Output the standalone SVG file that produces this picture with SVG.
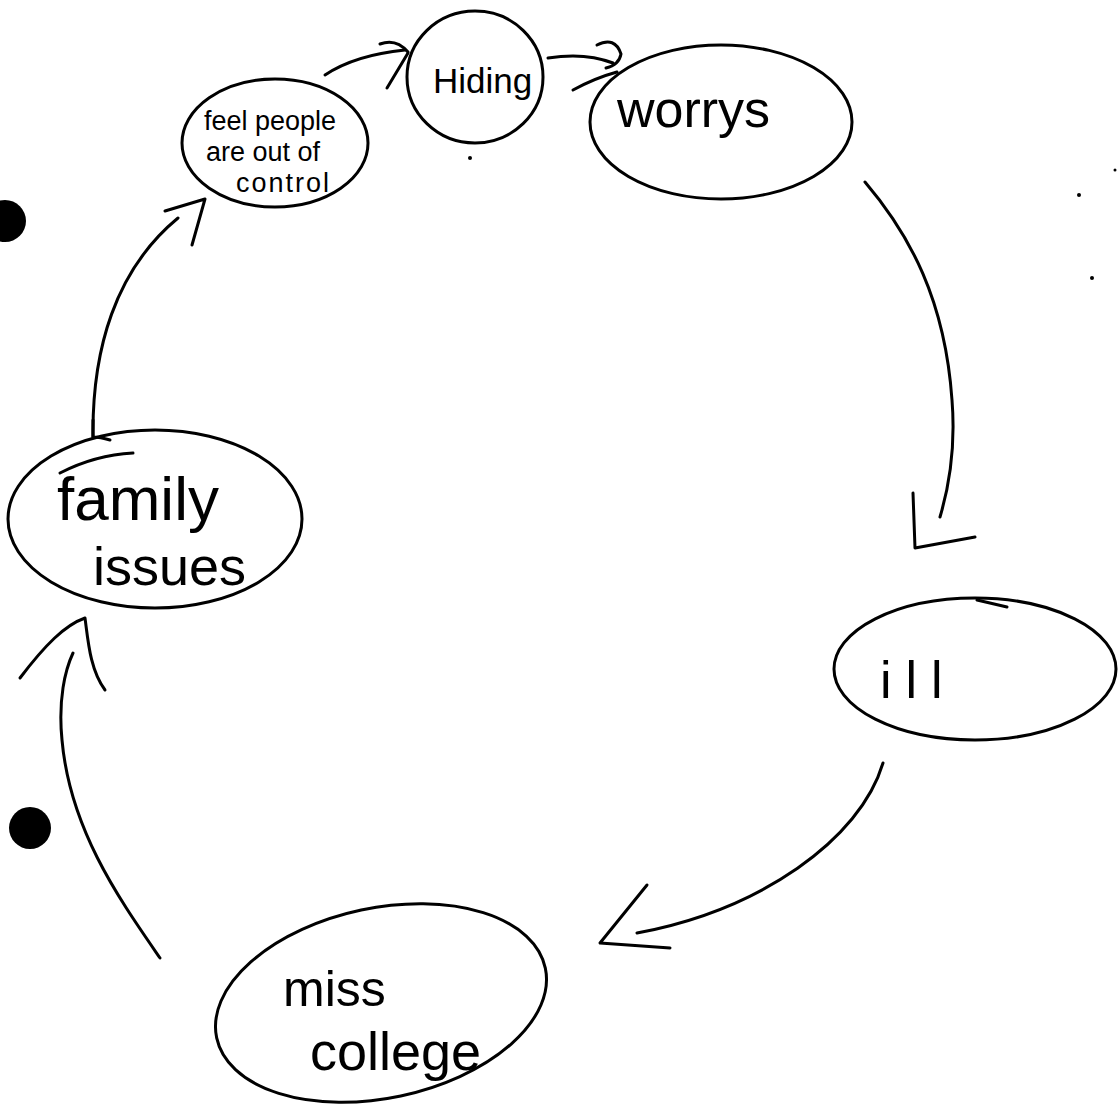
<svg xmlns="http://www.w3.org/2000/svg" width="1118" height="1107" viewBox="0 0 1118 1107">
<style>
.node{fill:none;stroke:#000;stroke-width:3;stroke-linecap:round;stroke-linejoin:round}
.lbl{font-family:"Liberation Sans","DejaVu Sans",sans-serif;fill:#000}
.edge path{fill:none;stroke:#000;stroke-width:3;stroke-linecap:round;stroke-linejoin:round}
</style>
<rect width="1118" height="1107" fill="#fff"/>
<g id="bullets">
<circle cx="5" cy="221" r="21" fill="#000"/>
<circle cx="30" cy="828" r="21" fill="#000"/>
<circle cx="1079" cy="195" r="2" fill="#000"/>
<circle cx="1092" cy="278" r="2" fill="#000"/>
<circle cx="1115" cy="170" r="1.5" fill="#000"/>
<circle cx="470" cy="158" r="2" fill="#000"/>
</g>
<g id="node-feel">
<ellipse class="node" cx="275" cy="143" rx="93" ry="64"/>
<text class="lbl" font-size="27" x="204" y="130">feel people</text>
<text class="lbl" font-size="27" x="206" y="161">are out of</text>
<text class="lbl" font-size="27" x="236" y="192" letter-spacing="2">control</text>
</g>
<g id="node-hiding">
<ellipse class="node" cx="475" cy="77" rx="68" ry="66"/>
<text class="lbl" font-size="35" x="433" y="93">Hiding</text>
</g>
<g id="node-worrys">
<ellipse class="node" cx="721" cy="122" rx="131" ry="77"/>
<text class="lbl" font-size="52" x="617" y="127">worrys</text>
</g>
<g id="node-ill">
<ellipse class="node" cx="975" cy="669" rx="141" ry="71"/>
<path class="node" d="M977,600 L1007,607"/>
<text class="lbl" font-size="52" x="880" y="698" letter-spacing="14">ill</text>
</g>
<g id="node-miss">
<ellipse class="node" cx="381" cy="1003" rx="168" ry="95" transform="rotate(-12 381 1003)"/>
<text class="lbl" font-size="50" x="283" y="1006">miss</text>
<text class="lbl" font-size="54" x="310" y="1070">college</text>
</g>
<g id="node-family">
<ellipse class="node" cx="155" cy="519" rx="147" ry="89"/>
<text class="lbl" font-size="62" x="57" y="520">family</text>
<text class="lbl" font-size="54" x="93" y="585">issues</text>
</g>
<g id="connectors" class="edge">
<path d="M325,75 Q355,55 405,50"/>
<path d="M380,44 Q396,38 408,52"/>
<path d="M387,88 L408,53"/>
<path d="M548,58 Q585,52 613,63"/>
<path d="M597,45 Q615,36 621,54 Q619,65 606,68"/>
<path d="M573,90 Q595,78 617,72"/>
<path d="M865,182 C910,235 945,300 952,400 C956,450 948,490 940,517"/>
<path d="M913,493 L915,548 L975,537"/>
<path d="M883,763 C860,840 760,910 637,933"/>
<path d="M647,885 L600,943 L670,948"/>
<path d="M160,958 C120,900 70,830 62,740 C58,700 65,670 73,653"/>
<path d="M20,678 C45,645 65,625 85,618 C88,640 90,670 105,690"/>
<path d="M93,437 C92,350 115,270 178,218"/>
<path d="M165,211 L205,199 L192,245"/>
<path d="M93,420 L93,437 Q100,437 110,440"/>
<path d="M60,473 Q95,455 133,453"/>
</g>
</svg>
